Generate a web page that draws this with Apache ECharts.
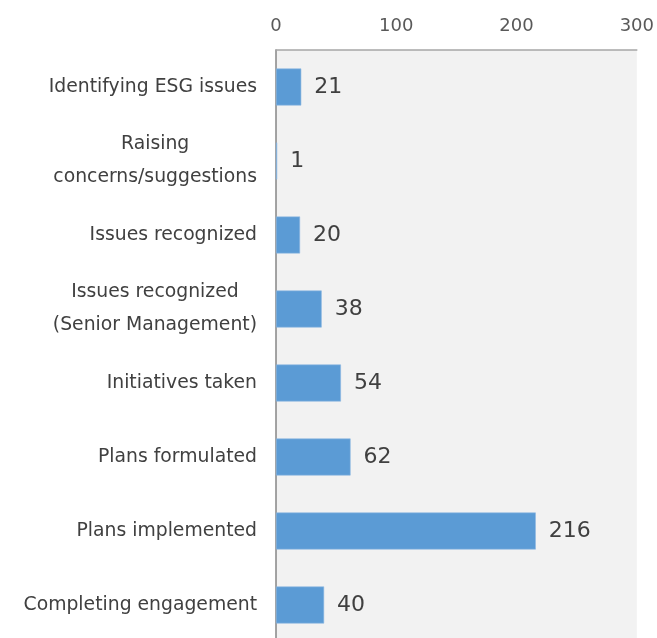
<!DOCTYPE html>
<html>
<head>
<meta charset="utf-8">
<title>ESG engagement milestones</title>
<script src="https://cdn.jsdelivr.net/npm/echarts@6/dist/echarts.min.js"></script>
<style>
  html, body { margin: 0; padding: 0; background: #ffffff; overflow: hidden; }
  /* the plot runs slightly past the bottom edge of the page */
  #chart { width: 657px; height: 642px; }
</style>
</head>
<body>
<div id="chart"></div>
<script>
// Engagement stages and number of cases at each stage
const stages = [
  'Identifying ESG issues',
  'Raising\nconcerns/suggestions',
  'Issues recognized',
  'Issues recognized\n(Senior Management)',
  'Initiatives taken',
  'Plans formulated',
  'Plans implemented',
  'Completing engagement'
];
const counts = [21, 1, 20, 38, 54, 62, 216, 40];
const valueTicks = [0, 100, 200, 300];

const FONT = '"DejaVu Sans", Verdana, sans-serif';

const chart = echarts.init(document.getElementById('chart'), null, { renderer: 'canvas' });

chart.setOption({
  backgroundColor: '#ffffff',
  animation: false,
  grid: {
    left: 276,
    top: 50,
    right: 20,
    bottom: 0,
    show: true,
    backgroundColor: '#f2f2f2',
    borderWidth: 0,
    containLabel: false
  },
  xAxis: {
    type: 'value',
    position: 'top',
    min: valueTicks[0],
    max: valueTicks[valueTicks.length - 1],
    interval: valueTicks[1] - valueTicks[0],
    axisLine: { show: true, lineStyle: { color: '#a6a6a6', width: 1.5 } },
    axisTick: { show: false },
    splitLine: { show: false },
    axisLabel: {
      margin: 15,
      color: '#595959',
      fontFamily: FONT,
      fontSize: 18
    }
  },
  yAxis: {
    type: 'category',
    inverse: true,
    data: stages,
    axisLine: { show: true, lineStyle: { color: '#868686', width: 1.5 } },
    axisTick: { show: false },
    splitLine: { show: false },
    axisLabel: {
      margin: 19,
      color: '#404040',
      fontFamily: FONT,
      fontSize: 18.8,
      lineHeight: 33,
      formatter: (v) => v.split('\n').map(s => '{c|' + s + '}').join('\n'),
      rich: {
        c: {
          align: 'center',
          color: '#404040',
          fontFamily: FONT,
          fontSize: 18.8,
          lineHeight: 33
        }
      }
    }
  },
  series: [{
    type: 'bar',
    data: counts,
    barCategoryGap: '50%',
    itemStyle: {
      color: '#5b9bd5',
      borderColor: '#8fb9e3',
      borderWidth: 0.6
    },
    label: {
      show: true,
      position: 'right',
      distance: 13,
      color: '#404040',
      fontFamily: FONT,
      fontSize: 22
    }
  }]
});
</script>
</body>
</html>
